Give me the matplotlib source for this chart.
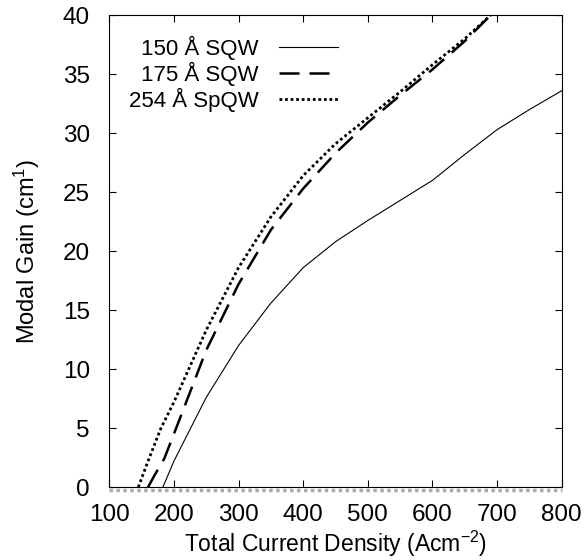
import numpy as np
import matplotlib.pyplot as plt

plt.rcParams['font.family'] = ['Liberation Sans', 'DejaVu Sans']
plt.rcParams['mathtext.fontset'] = 'custom'
plt.rcParams['mathtext.rm'] = 'Liberation Sans'
plt.rcParams['mathtext.default'] = 'regular'

j_150 = [183, 200, 250, 300, 350, 400, 450, 500, 550, 600, 650, 700, 750, 800]
g_150 = [0, 2.2, 7.6, 12.0, 15.6, 18.6, 20.8, 22.6, 24.3, 26.0, 28.2, 30.3, 32.0, 33.6]

j_175 = [160, 170, 185, 200, 250, 300, 350, 400, 450, 500, 550, 600, 650, 690]
g_175 = [0, 1.0, 2.4, 4.5, 11.6, 17.2, 21.8, 25.3, 28.3, 30.9, 33.2, 35.4, 37.8, 40.0]

j_254 = [145, 160, 180, 200, 250, 300, 350, 400, 450, 500, 550, 600, 650, 690]
g_254 = [0, 2.2, 5.0, 7.2, 13.3, 18.6, 22.9, 26.4, 29.1, 31.3, 33.5, 35.8, 38.0, 40.0]

fig = plt.figure(figsize=(5.84, 5.6), dpi=100)
ax = fig.add_axes([0.187, 0.130, 0.775, 0.843])

ax.plot(j_150, g_150, color='black', lw=0.8, label='150 Å SQW')
ax.plot(j_175, g_175, color='black', lw=1.8, dashes=(8, 4), label='175 Å SQW')
ax.plot(j_254, g_254, color='black', lw=2.0, linestyle=(0, (1, 1)), label='254 Å SpQW')
ax.axhline(-0.2, color='#aaaaaa', lw=2.5, linestyle=(0, (1, 1)), clip_on=False, zorder=0)

ax.set_xlim(100, 800)
ax.set_ylim(0, 40)
ax.set_xticks(np.arange(100, 801, 100))
ax.set_yticks(np.arange(0, 41, 5))
ax.tick_params(direction='in', top=True, right=True, labelsize=17.5, length=5)
ax.tick_params(axis='x', pad=12)
ax.tick_params(axis='y', pad=14)
ax.set_xlabel('Total Current Density (Acm$^{-2}$)', fontsize=16.5, labelpad=2)
ax.set_ylabel('Modal Gain (cm$^{1}$)', fontsize=17, labelpad=15)

ax.legend(loc='upper left', bbox_to_anchor=(0.0, 0.998), frameon=False, markerfirst=False,
          fontsize=16, handlelength=2.65, labelspacing=0.08, handletextpad=0.9)

fig.savefig('out.png', dpi=100)
